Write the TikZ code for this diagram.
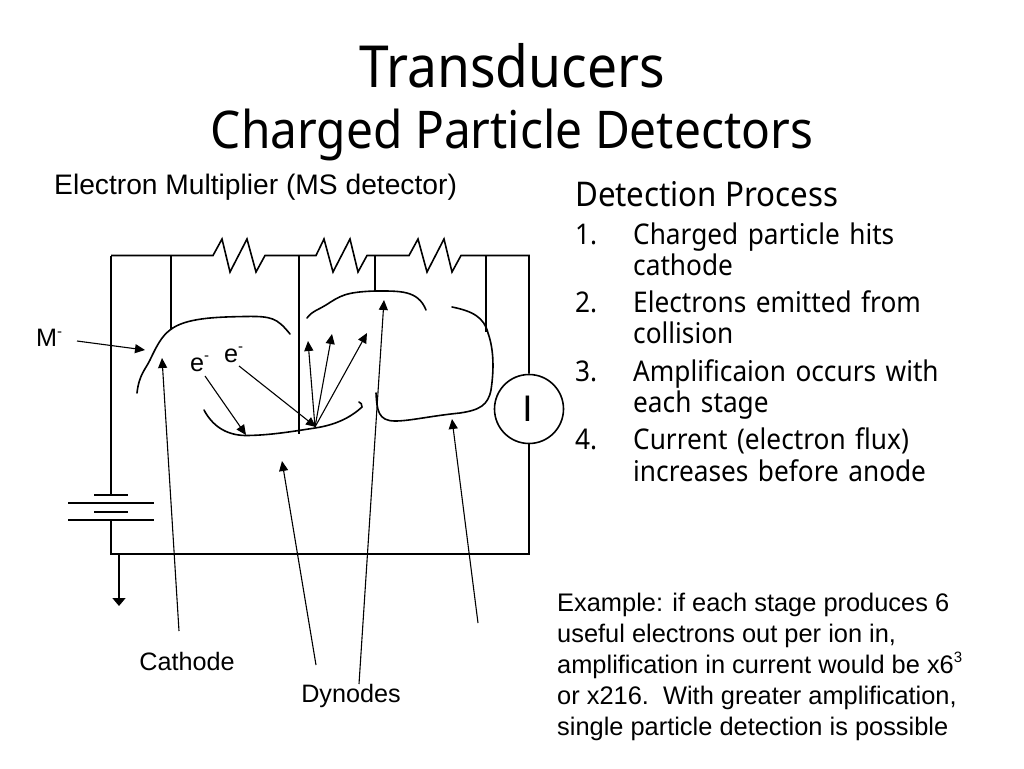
\documentclass[tikz,border=0pt]{standalone}
\usepackage{fontspec}
\setmainfont{Liberation Sans}
\newfontfamily\tahomaish[FakeStretch=0.92]{Noto Sans}
\newcommand{\supr}[1]{\raisebox{0.42em}{\fontsize{15}{15}\selectfont #1}}
\newcommand{\listno}[1]{\llap{\hbox to 58pt{#1\hfil}}}
\usetikzlibrary{arrows.meta}
\tikzset{
 wire/.style={line width=1.6pt,line join=miter},
 dyn/.style={line width=1.6pt,line cap=round},
 arr/.style={line width=1.1pt,-{Triangle[length=10pt,width=9pt]}},
 lab/.style={inner sep=0pt,font=\fontsize{25.2}{31}\selectfont},
 ttl/.style={inner sep=0pt,font=\tahomaish},
 item/.style={inner sep=0pt,anchor=north west,align=left,text width=340pt,font=\tahomaish\fontsize{28.5}{31}\selectfont}
}
\begin{document}
\begin{tikzpicture}[x=1pt,y=-1pt]
\useasboundingbox (0,0) rectangle (1024,768);
% titles
\node[ttl,font=\tahomaish\fontsize{58}{64}\selectfont] (t1) at (512,66) {Transducers};
\node[ttl,font=\tahomaish\fontsize{52}{60}\selectfont] (t2) at (512,135) {Charged Particle Detectors};
\node[lab,anchor=west,font=\fontsize{28.2}{31}\selectfont] (sub) at (54,187) {Electron Multiplier (MS detector)};
\node[ttl,anchor=west,font=\tahomaish\fontsize{34}{36}\selectfont] (dp) at (575,194) {Detection Process};
\node[item] (i1) at (633,223) {\strut\listno{1.}Charged particle hits\\cathode};
\node[item] (i2) at (633,290.5) {\strut\listno{2.}Electrons emitted from\\collision};
\node[item] (i3) at (633,359) {\strut\listno{3.}Amplificaion occurs with\\each stage};
\node[item] (i4) at (633,427) {\strut\listno{4.}Current (electron flux)\\increases before anode};
\node[lab,anchor=north west,align=left,font=\fontsize{25.4}{31}\selectfont] (ex) at (557,592.5) {Example: if each stage produces 6\\useful electrons out per ion in,\\amplification in current would be x6\supr{3}\\or x216.\ \ With greater amplification,\\single particle detection is possible};
% circuit points
\coordinate (tl) at (111,255.5);
\coordinate (tr) at (529,255.5);
\coordinate (bl) at (111,554);
\coordinate (br) at (529,554);
\coordinate (b1) at (111,495);
\coordinate (b2) at (111,520);
\coordinate (g) at (119,554);
\coordinate (gend) at (119,606);
\node[circle,draw,line width=1.6pt,minimum size=69pt,inner sep=0pt,font=\fontsize{37}{37}\selectfont] (meter) at (529,409) {\kern-3pt I};
% wires with resistors
\draw[wire] (tl) -- (213,255.5) -- (222,239) -- (230,272) -- (247,239) -- (256,272) -- (265,255.5)
 -- (316,255.5) -- (324,239) -- (333,272) -- (350,239) -- (358,272) -- (367,255.5)
 -- (409,255.5) -- (418,239) -- (427,272) -- (444,239) -- (452,272) -- (461,255.5) -- (tr) -- (meter.north);
\draw[wire] (meter.south) -- (br) -- (bl) -- (b2);
\draw[wire] (tl) -- (b1);
\draw[wire] (94,495) -- (128,495);
\draw[wire] (68,503) -- (154,503);
\draw[wire] (94,512) -- (128,512);
\draw[wire] (68,520) -- (154,520);
\draw[line width=1.6pt,-{Triangle[length=8pt,width=13pt]}] (g) -- (gend);
% taps
\draw[wire] (171,255.5) -- (171,330);
\draw[wire] (299,255.5) -- (299,434);
\draw[wire] (375,255.5) -- (375,291);
\draw[wire] (486,255.5) -- (486,332);
% dynodes
\draw[dyn] (137,393) .. controls (139,375) and (145,370) .. (150,360) .. controls (157,345) and (162,336) .. (170,330) .. controls (185,318) and (215,317) .. (245,316.5) .. controls (272,316) and (277,318) .. (290,334);
\draw[dyn] (204,410) .. controls (212,425) and (225,435) .. (245,435.5) .. controls (270,435.5) and (295,431) .. (315,428) .. controls (335,425) and (350,418) .. (362,407) .. controls (362,404) and (361,403) .. (359,402);
\draw[dyn] (307,318) .. controls (312,311) and (320,309) .. (326,305) .. controls (340,296) and (345,292) .. (375,291) .. controls (400,291) and (418,290) .. (426,310);
\draw[dyn] (376,393) .. controls (377,410) and (378,421) .. (395,421) .. controls (410,421) and (430,416) .. (460,413) .. controls (480,410) and (488,405) .. (491,390) .. controls (494,370) and (494,350) .. (488,333) .. controls (484,317) and (472,311) .. (452,307);
% labels
\node[lab,anchor=west] (mm) at (36,338) {M\supr{-}};
\node[lab,anchor=west] (e1) at (190,364) {e\supr{-}};
\node[lab,anchor=west] (e2) at (224,355) {e\supr{-}};
\node[lab] (cath) at (187,661) {Cathode};
\node[lab] (dyno) at (351,696) {Dynodes};
% arrows
\coordinate (hit) at (316,427);
\coordinate (hit2) at (246,435);
\coordinate (amfrom) at (77,341);
\coordinate (amto) at (145,350);
\coordinate (cfrom) at (179,631);
\coordinate (cto) at (162,358);
\coordinate (d1from) at (316,665);
\coordinate (d1to) at (282,461);
\coordinate (d2from) at (359,684);
\coordinate (d2to) at (384,300);
\coordinate (d3from) at (478,623);
\coordinate (d3to) at (452,419);
\coordinate (e1from) at (205,376);
\coordinate (e2from) at (239,366);
\coordinate (em) at (315,427);
\coordinate (u1) at (308,341);
\coordinate (u2) at (332,334);
\coordinate (u3) at (367,333);
\draw[arr] (amfrom) -- (amto);
\draw[arr] (cfrom) -- (cto);
\draw[arr] (d1from) -- (d1to);
\draw[arr] (d2from) -- (d2to);
\draw[arr] (d3from) -- (d3to);
\draw[arr] (e1from) -- (hit2);
\draw[arr] (e2from) -- (hit);
\draw[arr] (em) -- (u1);
\draw[arr] (em) -- (u2);
\draw[arr] (em) -- (u3);
\end{tikzpicture}
\end{document}
